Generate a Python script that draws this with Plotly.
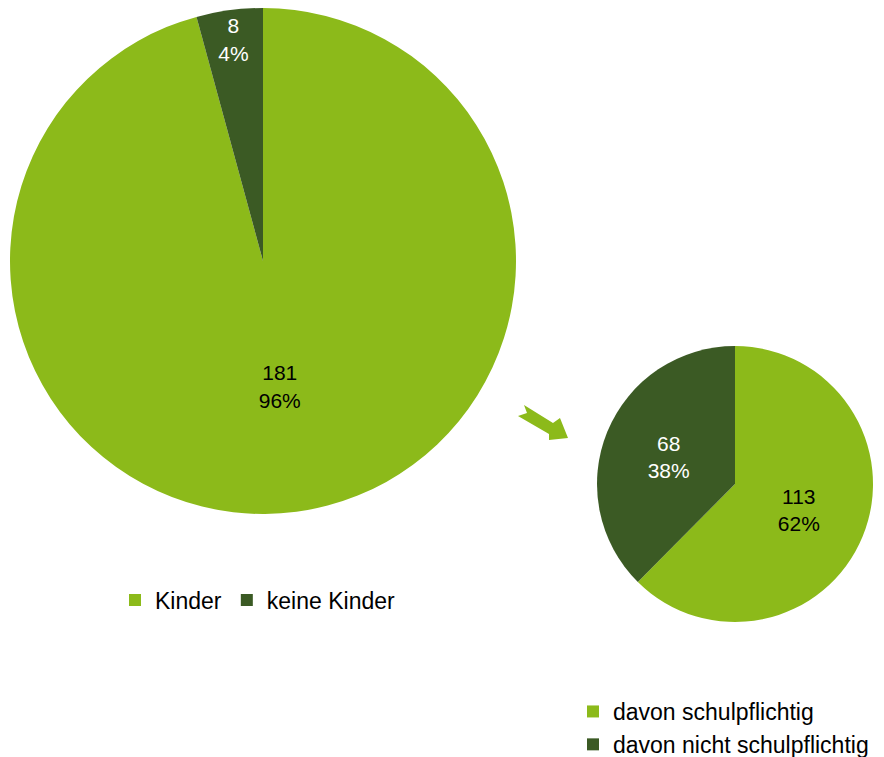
import plotly.graph_objects as go

W, H = 884, 757

# data
big_labels = ["Kinder", "keine Kinder"]
big_values = [181, 8]
small_labels = ["davon schulpflichtig", "davon nicht schulpflichtig"]
small_values = [113, 68]

LIGHT = "#8CBA1A"
DARK = "#3B5A24"
FONT = "Liberation Sans, Arial, sans-serif"

OX, OY = 8, 5  # page offset compensation


def px(x):
    return min(1.0, max(0.0, (x - OX) / W))


def py(y):
    return min(1.0, max(0.0, 1 - (y - OY) / H))


fig = go.Figure()
fig.add_trace(go.Pie(
    labels=big_labels, values=big_values,
    marker=dict(colors=[LIGHT, DARK], line=dict(width=0)),
    sort=False, direction="clockwise", rotation=0,
    texttemplate="%{value}<br>%{percent:.0%}",
    textposition="inside", insidetextorientation="horizontal",
    textfont=dict(family=FONT, size=21, color=["#000000", "#FFFFFF"]),
    domain=dict(x=[px(10), px(516)], y=[py(511), py(5)]),
    legend="legend", hoverinfo="label+value+percent",
))
fig.add_trace(go.Pie(
    labels=small_labels, values=small_values,
    marker=dict(colors=[LIGHT, DARK], line=dict(width=0)),
    sort=False, direction="clockwise", rotation=0,
    texttemplate="%{value}<br>%{percent:.0%}",
    textposition="inside", insidetextorientation="horizontal",
    textfont=dict(family=FONT, size=21, color=["#000000", "#FFFFFF"]),
    domain=dict(x=[px(597), px(873)], y=[py(619), py(343)]),
    legend="legend2", hoverinfo="label+value+percent",
))

arrow_pts = [(524, 402), (553, 420), (560, 415), (568, 435), (549, 437), (549, 431), (518, 413), (527, 410)]
path = "M " + " L ".join(f"{px(x):.5f},{py(y):.5f}" for x, y in arrow_pts) + " Z"

fig.update_layout(
    width=W, height=H,
    margin=dict(l=0, r=0, t=0, b=0, autoexpand=False),
    paper_bgcolor="white", plot_bgcolor="white",
    font=dict(family=FONT, size=23, color="#000000"),
    shapes=[dict(type="path", path=path, xref="paper", yref="paper",
                 fillcolor=LIGHT, line=dict(width=0))],
    legend=dict(orientation="h", x=px(115), y=py(597), xanchor="left", yanchor="middle",
                font=dict(family=FONT, size=23), itemwidth=30, bgcolor="rgba(0,0,0,0)"),
    legend2=dict(orientation="v", x=px(573), y=py(687), xanchor="left", yanchor="top",
                 font=dict(family=FONT, size=23), itemwidth=30, bgcolor="rgba(0,0,0,0)",
                 tracegroupgap=0),
)

fig.write_html("out.html")
